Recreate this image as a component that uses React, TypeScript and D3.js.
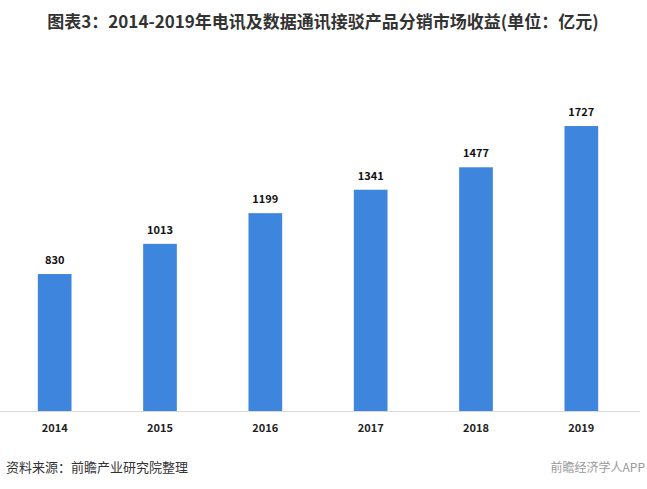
import React from "react";
import * as d3 from "d3";

const years = ["2014", "2015", "2016", "2017", "2018", "2019"];
const values = [830, 1013, 1199, 1341, 1477, 1727];
const title = "图表3：2014-2019年电讯及数据通讯接驳产品分销市场收益(单位：亿元)";
const source = "资料来源：前瞻产业研究院整理";
const brand = "前瞻经济学人APP";

export default function App() {
  const W = 647, H = 489;
  const x = d3.scaleBand<string>().domain(years).range([2, 634]).paddingInner(0.68).paddingOuter(0.34);
  const y = d3.scaleLinear().domain([0, 2000]).range([411, 81]);
  const font = "'Microsoft YaHei', 'Noto Sans CJK SC', sans-serif";
  return (
    <svg width={W} height={H} style={{ position: "absolute", left: 0, top: 0, background: "#fff" }}>
      <text x={323} y={28} textAnchor="middle" fontFamily={font} fontWeight="bold" fontSize={17} fill="#333">{title}</text>
      <line x1={0} x2={640} y1={411.5} y2={411.5} stroke="#d9d9d9" strokeWidth={1} />
      {years.map((yr, i) => (
        <g key={yr}>
          <rect x={x(yr)} y={y(values[i])} width={x.bandwidth()} height={y(0) - y(values[i])} fill="#3e85de" />
          <text x={(x(yr) ?? 0) + x.bandwidth() / 2} y={y(values[i]) - 10} textAnchor="middle" fontFamily={font} fontWeight="bold" fontSize={11} fill="#111">{values[i]}</text>
          <text x={(x(yr) ?? 0) + x.bandwidth() / 2} y={432} textAnchor="middle" fontFamily={font} fontWeight="bold" fontSize={11} fill="#222">{yr}</text>
        </g>
      ))}
      <text x={6} y={472} fontFamily={font} fontSize={13} fill="#333">{source}</text>
      <text x={645} y={472} textAnchor="end" fontFamily={font} fontSize={12} fill="#999">{brand}</text>
    </svg>
  );
}
